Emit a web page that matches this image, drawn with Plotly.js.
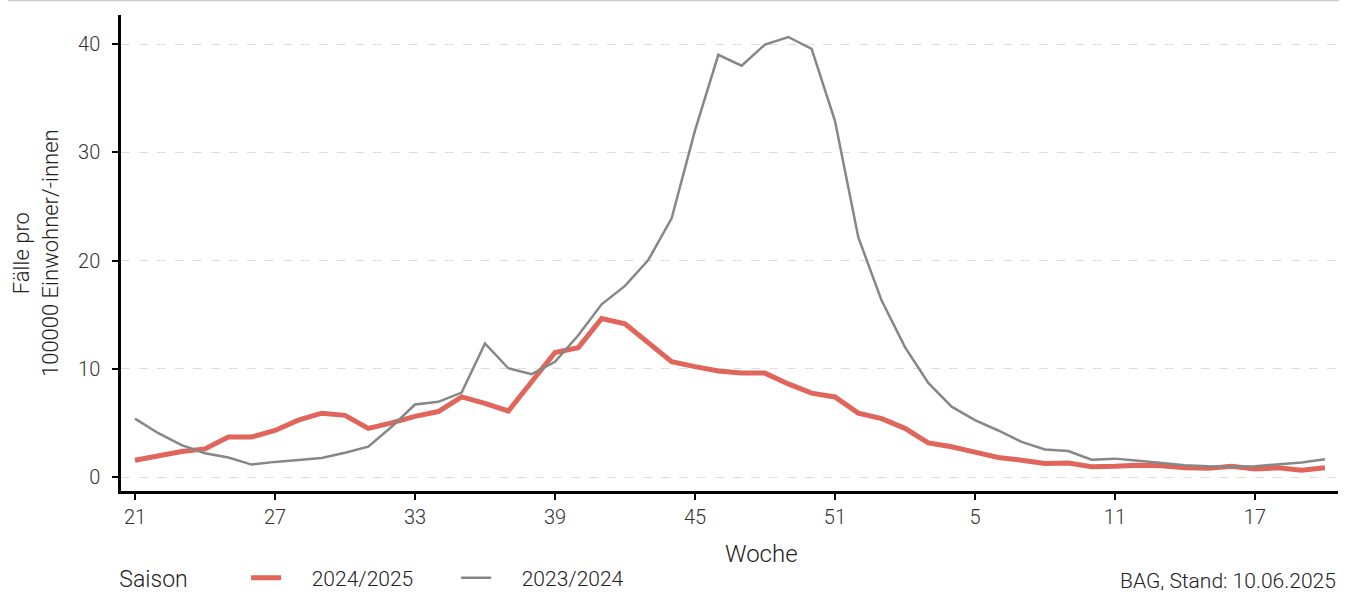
<!DOCTYPE html>
<html>
<head>
<meta charset="utf-8">
<script src="https://cdn.plot.ly/plotly-3.0.1.min.js"></script>
<style>html,body{margin:0;padding:0;background:#fff;}#chart{width:1345px;height:594px;}</style>
</head>
<body>
<div id="chart"></div>
<script>
const weeks = ["21","22","23","24","25","26","27","28","29","30","31","32","33","34","35","36","37","38","39","40","41","42","43","44","45","46","47","48","49","50","51","52","1","2","3","4","5","6","7","8","9","10","11","12","13","14","15","16","17","18","19","20"];
const tickWeeks = ["21","27","33","39","45","51","5","11","17"];
const season2425 = [1.55,1.95,2.35,2.6,3.7,3.7,4.3,5.25,5.9,5.7,4.5,5.0,5.6,6.05,7.4,6.8,6.1,8.8,11.5,11.95,14.65,14.15,12.4,10.65,10.2,9.8,9.6,9.6,8.6,7.75,7.4,5.9,5.4,4.5,3.15,2.8,2.3,1.8,1.55,1.25,1.3,0.95,1.0,1.1,1.05,0.85,0.8,1.0,0.75,0.85,0.62,0.85];
const season2324 = [5.4,4.05,2.95,2.2,1.8,1.15,1.4,1.6,1.75,2.25,2.8,4.65,6.7,6.95,7.8,12.35,10.05,9.5,10.65,13.1,15.95,17.65,20.05,23.9,32.0,39.0,38.0,39.95,40.65,39.55,32.9,22.15,16.3,12.0,8.7,6.5,5.25,4.3,3.25,2.55,2.4,1.6,1.7,1.5,1.3,1.1,1.0,0.95,1.0,1.15,1.35,1.65];
const yTicks = [0,10,20,30,40];
const seasonNames = ["2024/2025", "2023/2024"];

const FONT = "Roboto, 'Noto Sans', sans-serif";
const PAD = "&nbsp;&nbsp;&nbsp;&nbsp;&nbsp;";

const traces = [
  {x: weeks, y: season2425, type: "scatter", mode: "lines", name: PAD + seasonNames[0],
   line: {color: "#e0655a", width: 5}},
  {x: weeks, y: season2324, type: "scatter", mode: "lines", name: PAD + seasonNames[1],
   line: {color: "#878787", width: 2.5}}
];

const H = 476, W = 1217;
const layout = {
  width: 1345, height: 594,
  margin: {l: 121, r: 7, t: 15, b: 103, autoexpand: false},
  paper_bgcolor: "#ffffff", plot_bgcolor: "#ffffff",
  font: {family: FONT, color: "#333333", size: 18, weight: 300},
  showlegend: true,
  legend: {orientation: "h", x: -0.003, xanchor: "left", y: (491-578)/H, yanchor: "middle",
    title: {text: "Saison&nbsp;&nbsp;&nbsp;&nbsp;&nbsp;&nbsp;&nbsp;&nbsp;&nbsp;", side: "left", font: {size: 23, color: "#222222", family: FONT, weight: 300}},
    font: {size: 21, color: "#222222", family: FONT, weight: 300},
    itemwidth: 30, entrywidth: 165, entrywidthmode: "pixels", traceorder: "normal", bgcolor: "rgba(0,0,0,0)"},
  xaxis: {type: "category", categoryorder: "array", categoryarray: weeks,
    range: [-0.6, 51.56], tickmode: "array", tickvals: tickWeeks, ticktext: tickWeeks,
    showgrid: false, zeroline: false, showline: true, linecolor: "#000000", linewidth: 2.5,
    ticks: "outside", ticklen: 6, tickwidth: 2, tickcolor: "#000000", ticklabelstandoff: 0,
    tickfont: {size: 20, color: "#333333", family: FONT, weight: 300}},
  yaxis: {range: [-1.29, 42.68], tickmode: "array", tickvals: yTicks,
    showgrid: true, gridcolor: "#dedede", griddash: "dash", gridwidth: 1.2,
    zeroline: false, showline: true, linecolor: "#000000", linewidth: 2.5,
    ticks: "outside", ticklen: 6, tickwidth: 2, tickcolor: "#000000", ticklabelstandoff: 8,
    tickfont: {size: 20, color: "#333333", family: FONT, weight: 300}},
  annotations: [
    {text: "Woche", xref: "paper", yref: "paper", x: 0.526, y: (491-554)/H, xanchor: "center", yanchor: "middle",
     showarrow: false, font: {size: 24, color: "#222222", family: FONT, weight: 300}},
    {text: "Fälle pro<br>100000 Einwohner/-innen", xref: "paper", yref: "paper", x: (36-121)/W, y: 0.5,
     xanchor: "center", yanchor: "middle", textangle: -90, showarrow: false,
     font: {size: 22, color: "#222222", family: FONT, weight: 300}},
    {text: "BAG, Stand: 10.06.2025", xref: "paper", yref: "paper", x: 1, y: (491-581)/H, xanchor: "right", yanchor: "middle",
     showarrow: false, font: {size: 21, color: "#222222", family: FONT, weight: 300}}
  ],
  shapes: [
    {type: "line", xref: "paper", yref: "paper", x0: (8-121)/W, x1: (1339-121)/W, y0: 1 + 14.5/H, y1: 1 + 14.5/H,
     line: {color: "#cccccc", width: 1.5}}
  ]
};

Plotly.newPlot("chart", traces, layout, {displayModeBar: false, responsive: false});
</script>
</body>
</html>
